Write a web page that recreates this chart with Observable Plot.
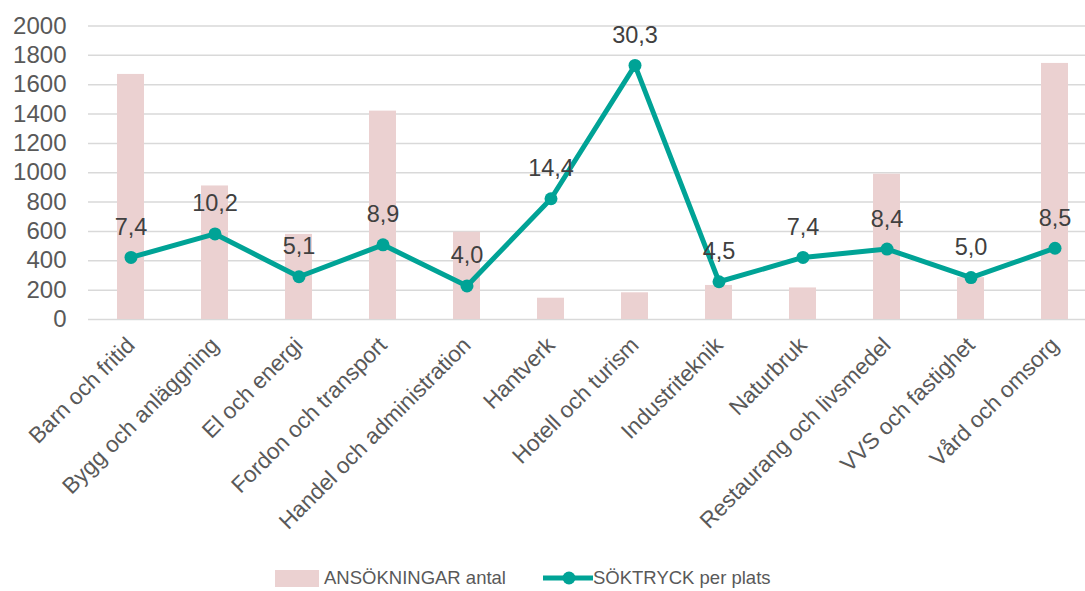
<!DOCTYPE html>
<html>
<head>
<meta charset="utf-8">
<script src="https://cdn.jsdelivr.net/npm/d3@7"></script>
<script src="https://cdn.jsdelivr.net/npm/@observablehq/plot@0.6"></script>
<style>
  html, body { margin: 0; padding: 0; background: #fff; }
  body { width: 1085px; height: 591px; overflow: hidden; font-family: "Liberation Sans", Arial, sans-serif; }
  #legend { position: relative; height: 36px; font-size: 18.5px; color: #595959; }
  .item { position: absolute; top: 5px; display: flex; align-items: center; height: 36px; }
</style>
</head>
<body>
<div id="chart"></div>
<div id="legend">
  <div class="item" style="left:275px"><span style="display:inline-block;width:44px;height:17px;background:#ebd1d1;margin-right:5px"></span>ANSÖKNINGAR antal</div>
  <div class="item" style="left:543px"><svg width="50" height="20"><line x1="0" y1="10" x2="50" y2="10" stroke="#00a396" stroke-width="5"/><circle cx="26" cy="10" r="6.5" fill="#00a396"/></svg>SÖKTRYCK per plats</div>
</div>
<script>
const categories = ["Barn och fritid", "Bygg och anläggning", "El och energi", "Fordon och transport", "Handel och administration", "Hantverk", "Hotell och turism", "Industriteknik", "Naturbruk", "Restaurang och livsmedel", "VVS och fastighet", "Vård och omsorg"];
const ansokningar = [1670, 910, 580, 1420, 595, 145, 182, 232, 215, 990, 285, 1745];
const soktryck = [7.4, 10.2, 5.1, 8.9, 4.0, 14.4, 30.3, 4.5, 7.4, 8.4, 5.0, 8.5];
const yTicks = [0, 200, 400, 600, 800, 1000, 1200, 1400, 1600, 1800, 2000];
const secondaryMax = 35; // secondary (hidden) axis 0–35 aligned with 0–2000

const data = categories.map((c, i) => ({cat: c, ans: ansokningar[i], sok: soktryck[i]}));
const toPrimary = v => v * 2000 / secondaryMax;
const fmt = v => v.toFixed(1).replace(".", ",");

const chart = Plot.plot({
  width: 1085,
  height: 555,
  marginTop: 25.5,
  marginBottom: 236,
  marginLeft: 88,
  marginRight: 0,
  style: {fontFamily: "'Liberation Sans', Arial, sans-serif", color: "#595959", background: "#fff"},
  x: {domain: categories, range: [88, 1097], paddingInner: 0.68, paddingOuter: 0.34, label: null},
  y: {domain: [0, 2000], ticks: yTicks, label: null},
  marks: [
    Plot.ruleY(yTicks, {stroke: "#d9d9d9", strokeWidth: 1.5}),
    Plot.barY(data, {x: "cat", y: "ans", fill: "#ebd1d1"}),
    Plot.line(data, {x: "cat", y: d => toPrimary(d.sok), stroke: "#00a396", strokeWidth: 5, strokeLinejoin: "round"}),
    Plot.dot(data, {x: "cat", y: d => toPrimary(d.sok), r: 6.5, fill: "#00a396"}),
    Plot.text(data, {x: "cat", y: d => toPrimary(d.sok), text: d => fmt(d.sok), dy: -30, fontSize: 23.5, fill: "#404040"}),
    Plot.axisY({ticks: yTicks, tickFormat: d => String(d), tickSize: 0, tickPadding: 22, fontSize: 24, label: null, fill: "#595959"}),
    Plot.axisX({tickSize: 0, tickPadding: 22, tickRotate: -45, fontSize: 22.5, label: null, fill: "#595959"})
  ]
});
document.getElementById("chart").appendChild(chart);
</script>
</body>
</html>
